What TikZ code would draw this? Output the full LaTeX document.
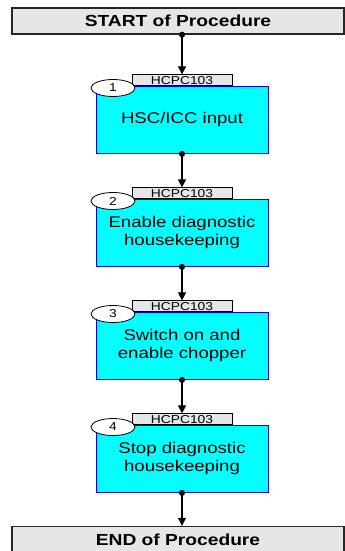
\documentclass[tikz,border=0pt]{standalone}
\usepackage{fontspec}
\setmainfont{Liberation Sans}[FakeStretch=1.2]
\usetikzlibrary{arrows.meta,shapes.geometric}
\definecolor{stepcyan}{RGB}{0,255,255}
\definecolor{stepblue}{RGB}{0,0,255}
\definecolor{endgray}{RGB}{230,230,230}
\tikzset{
  endbox/.style={draw=black!85, line width=1.4pt, fill=endgray, minimum width=332pt, minimum height=26pt,
    inner sep=0pt, font=\fontsize{16}{18}\selectfont\bfseries},
  stepbox/.style={draw=stepblue, line width=0.9pt, fill=stepcyan, minimum width=172pt, minimum height=67pt,
    inner sep=0pt, align=center, font=\fontsize{15.5}{18}\selectfont, anchor=north},
  tagbox/.style={draw=black, line width=0.6pt, fill=endgray, minimum width=100pt, minimum height=11pt,
    inner sep=0pt, font=\fontsize{11.5}{11}\selectfont, anchor=south},
  numoval/.style={ellipse, draw=black, line width=0.8pt, fill=white, minimum width=44pt, minimum height=17pt,
    inner sep=0pt, font=\fontsize{11.5}{12}\selectfont},
  flow/.style={line width=1.1pt, shorten <=-3pt, {Circle[length=6pt]}-{Triangle[length=8pt,width=8pt]}}
}
\begin{document}
\begin{tikzpicture}[x=1pt,y=-1pt]
		%%%%% START %%%%%
		\useasboundingbox (0,0) rectangle (345,551);
		
		\node[endbox] (start) at (178,21) {START of Procedure};
		
		\node[stepbox] (s1) at (182,86) {HSC/ICC input};
		\node[tagbox] (t1) at (s1.north) {HCPC103};
		\node[numoval] (n1) at (113,88) {1};
		
		\node[stepbox] (s2) at (182,199) {Enable diagnostic\\housekeeping};
		\node[tagbox] (t2) at (s2.north) {HCPC103};
		\node[numoval] (n2) at (113,201) {2};
		
		\node[stepbox] (s3) at (182,312) {Switch on and\\enable chopper};
		\node[tagbox] (t3) at (s3.north) {HCPC103};
		\node[numoval] (n3) at (113,314) {3};
		
		\node[stepbox] (s4) at (182,425) {Stop diagnostic\\housekeeping};
		\node[tagbox] (t4) at (s4.north) {HCPC103};
		\node[numoval] (n4) at (113,427) {4};
		
		\node[endbox] (end) at (178,539.5) {END of Procedure};
		
		\draw[flow] (start.south -| t1.north) -- (t1.north);
		\draw[flow] (s1.south) -- (t2.north);
		\draw[flow] (s2.south) -- (t3.north);
		\draw[flow] (s3.south) -- (t4.north);
		\draw[flow] (s4.south) -- (end.north -| s4.south);
		
		%%%%% END %%%%%
\end{tikzpicture}
\end{document}
